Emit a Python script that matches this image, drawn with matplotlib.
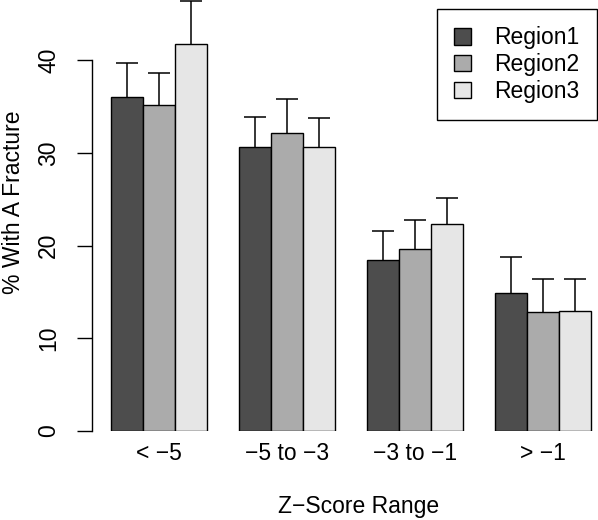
import numpy as np
import matplotlib
matplotlib.use("Agg")
import matplotlib.pyplot as plt
from matplotlib.patches import Patch

# data
groups = ["< \u22125", "\u22125 to \u22123", "\u22123 to \u22121", "> \u22121"]
regions = ["Region1", "Region2", "Region3"]
region1 = [36.0, 30.65, 18.4, 14.85]
region2 = [35.2, 32.1, 19.6, 12.8]
region3 = [41.7, 30.6, 22.3, 12.9]
region1_upper = [39.7, 33.85, 21.6, 18.8]
region2_upper = [38.6, 35.75, 22.7, 16.4]
region3_upper = [46.4, 33.8, 25.1, 16.4]
colors = ["#4d4d4d", "#ababab", "#e6e6e6"]

W, H = 598, 520
plt.rcParams['font.family'] = ['Liberation Sans', 'DejaVu Sans']
plt.rcParams['font.size'] = 16.5

fig = plt.figure(figsize=(W / 100, H / 100), dpi=100)
# plot region in pixels: left 92, y=0 at 431, top at 0
ax = fig.add_axes([92 / W, (H - 431) / H, (W - 92) / W, 431 / H])
ax.set_xlim(0.4, 0.4 + (W - 92) / 32)
ax.set_ylim(0, 431 / 9.275)

values = [region1, region2, region3]
uppers = [region1_upper, region2_upper, region3_upper]
x0 = np.arange(len(groups)) * 4 + 1
for j in range(3):
    left = x0 + j
    ax.bar(left, values[j], width=1, align='edge', color=colors[j],
           edgecolor='black', linewidth=1.0, zorder=2)
    centers = left + 0.5
    # upper error bars only, R arrows() style
    ax.vlines(centers, values[j], uppers[j], color='black', linewidth=1.1, zorder=3)
    for c, u in zip(centers, uppers[j]):
        ax.hlines(u, c - 0.34, c + 0.34, color='black', linewidth=1.1, zorder=3)

for s in ['top', 'right', 'bottom']:
    ax.spines[s].set_visible(False)
ax.spines['left'].set_bounds(0, 40)
ax.spines['left'].set_linewidth(1.0)
ax.set_yticks([0, 10, 20, 30, 40])
ax.tick_params(axis='y', length=10.8, width=1.0, pad=12)
for lab in ax.get_yticklabels():
    lab.set_rotation(90)
    lab.set_va('center')
ax.set_xticks(x0 + 1.5)
ax.set_xticklabels(groups)
ax.tick_params(axis='x', length=0, pad=8)

fig.text(14 / W, 1 - 202 / H, "% With A Fracture", rotation=90, ha='center', va='center')
fig.text(359 / W, 1 - 506 / H, "Z\u2212Score Range", ha='center', va='center')

handles = [Patch(facecolor=c, edgecolor='black', linewidth=1.0) for c in colors]
leg = fig.legend(handles, regions, loc='upper left',
                 bbox_to_anchor=(437 / W, 1 - 9 / H), borderaxespad=0,
                 fancybox=False, framealpha=1, edgecolor='black',
                 handlelength=0.75, handleheight=0.75, handletextpad=1.0,
                 labelspacing=0.17, borderpad=0.75)
leg.get_frame().set_linewidth(1.0)

fig.savefig("out.png", dpi=100)
